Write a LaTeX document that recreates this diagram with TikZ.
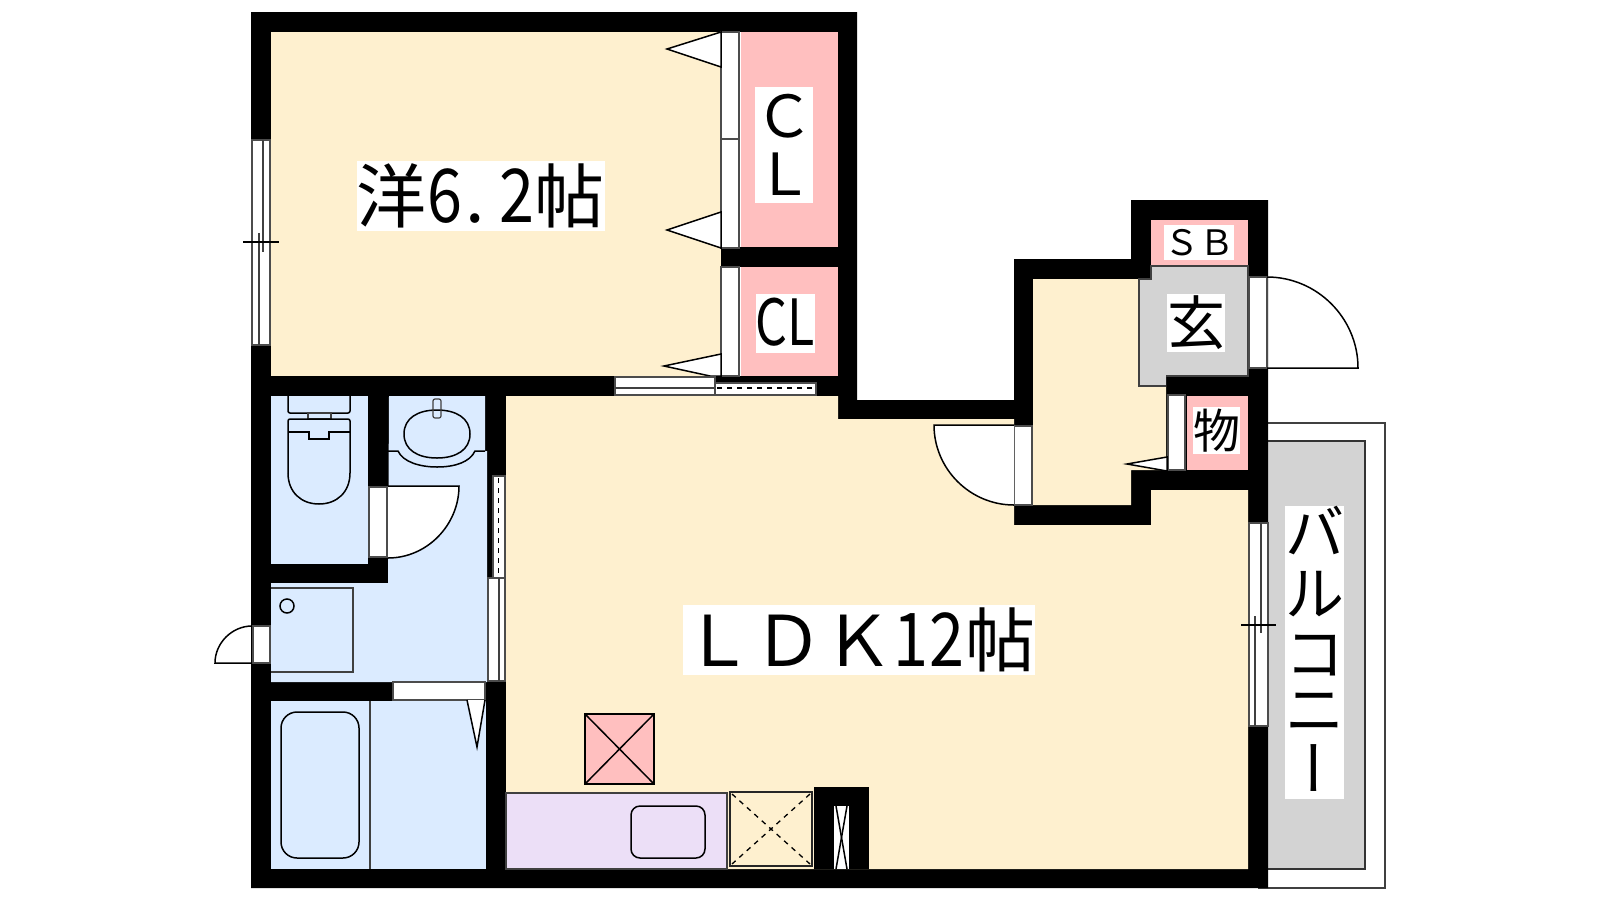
\documentclass[tikz,border=0pt]{standalone}
\usepackage{fontspec}
\setmainfont{Noto Sans CJK JP}
\usetikzlibrary{positioning}
\definecolor{roomcream}{HTML}{FEF0CF}
\definecolor{wetblue}{HTML}{DBEBFF}
\definecolor{closetpink}{HTML}{FFBFBF}
\definecolor{floorgray}{HTML}{D3D3D3}
\definecolor{counterlilac}{HTML}{ECDFF7}
\newcommand{\sz}[1]{\fontsize{#1pt}{#1pt}\selectfont}
\newcommand{\cstrut}{\rule[-.12em]{0pt}{1em}}
\newcommand{\dg}[1]{\makebox[36pt]{\scalebox{.9}[1.06]{#1}}}
\tikzset{
  roomlabel/.style={fill=white,inner sep=0pt,align=center,text=black},
  fixture/.style={draw=black,line width=1.5pt},
  frame/.style={draw=black!70,line width=1.1pt,fill=white},
  thinline/.style={draw=black!75,line width=1.2pt},
  dashline/.style={draw=black,line width=1.3pt,dash pattern=on 5pt off 5pt},
}
\begin{document}
\begin{tikzpicture}[x=1pt,y=-1pt]
\useasboundingbox (0,0) rectangle (1600,900);
% balcony
\draw[thinline] (1268,423) -- (1385,423) -- (1385,888) -- (1258,888);
\draw[draw=black!80,line width=1.3pt,fill=floorgray] (1268,441) -- (1365,441) -- (1365,869) -- (1268,869);
% walls
\fill[black] (251,12) -- (857,12) -- (857,400) -- (1014,400) -- (1014,259) -- (1131,259) -- (1131,200) -- (1268,200) -- (1268,888) -- (251,888) -- cycle;
% rooms
\fill[roomcream] (271,32) rectangle (721,376);
\fill[roomcream] (506,396) -- (838,396) -- (838,419) -- (1014,419) -- (1014,525) -- (1151,525) -- (1151,490) -- (1248,490) -- (1248,869) -- (506,869) -- cycle;
\fill[roomcream] (1033,279) -- (1139,279) -- (1139,386) -- (1166,386) -- (1166,470) -- (1131,470) -- (1131,505) -- (1033,505) -- cycle;
\fill[closetpink] (741,32) rectangle (838,247);
\fill[closetpink] (741,267) rectangle (838,376);
\fill[closetpink] (1151,220) rectangle (1248,265);
\fill[closetpink] (1187,396) rectangle (1248,470);
\draw[thinline,fill=floorgray] (1166,386) -- (1139,386) -- (1139,279) -- (1151,279) -- (1151,266) -- (1248,266) -- (1248,376) -- (1166,376);
\fill[wetblue] (271,396) rectangle (368,564);
\fill[wetblue] (389,396) -- (485,396) -- (485,451) -- (487,451) -- (487,682) -- (271,682) -- (271,583) -- (388,583) -- cycle;
\fill[wetblue] (271,701) rectangle (486,869);
% closet doors
\fill[white] (721,32) rectangle (741,247);
\fill[white] (721,267) rectangle (741,376);
\draw[frame] (721,32) rectangle (739,139);
\draw[frame] (721,139) rectangle (739,248);
\draw[frame] (721,267) rectangle (739,376);
\draw[fixture,fill=white] (721,32) -- (667,49) -- (721,67) -- cycle;
\draw[fixture,fill=white] (721,212) -- (667,230) -- (721,248) -- cycle;
\draw[fixture,fill=white] (721,354) -- (664,366) -- (710,376) -- (721,376) -- cycle;
\draw[frame] (1168,395) rectangle (1185,470);
\draw[fixture,fill=white] (1167,457) -- (1127,464) -- (1167,471) -- cycle;
% windows
\draw[frame] (252,140) rectangle (270,345);
\draw[thinline] (259,233) -- (259,345);
\draw[thinline] (263,140) -- (263,252);
\draw[fixture] (243,242) -- (279,242);
\draw[frame] (1249,523) rectangle (1268,726);
\draw[thinline] (1255,616) -- (1255,726);
\draw[thinline] (1261,523) -- (1261,633);
\draw[fixture] (1241,625) -- (1276,625);
\draw[frame] (615,377) rectangle (715,395);
\draw[thinline] (615,388) -- (715,388);
\draw[frame] (715,383) rectangle (816,395);
\draw[dashline] (717,388) -- (814,388);
\draw[frame] (493,476) rectangle (505,578);
\draw[dashline] (498.5,478) -- (498.5,576);
\draw[frame] (488,578) rectangle (505,681);
\draw[thinline] (499,578) -- (499,681);
% doors
\draw[frame] (1249,277) rectangle (1267,368);
\draw[fixture] (1267,277) .. controls (1317,277) and (1358,318) .. (1358,368) -- (1267,368);
\draw[frame] (1014,426) rectangle (1032,505);
\draw[fixture,fill=white] (1014,425) -- (934,425) .. controls (934,469) and (970,505) .. (1014,505);
\draw[frame] (369,487) rectangle (387,557);
\draw[fixture,fill=white] (388,486) -- (459,486) .. controls (459,525) and (427,558) .. (388,558);
\draw[frame] (253,626) rectangle (270,663);
\draw[fixture] (252,626) .. controls (232,626) and (215,643) .. (215,663) -- (252,663);
\draw[frame] (393,682) rectangle (485,700);
\draw[fixture,fill=white] (467,700) -- (477,747) -- (485,700);
% toilet
\draw[fixture,rounded corners=2pt] (288,396) -- (288,413) -- (350,413) -- (350,396);
\draw[thinline] (308,413) rectangle (331,419);
\draw[fixture,rounded corners=2pt] (288,473) -- (288,419) -- (350,419) -- (350,473);
\draw[fixture] (350,473) .. controls (350,492) and (337,504) .. (319,504) .. controls (301,504) and (288,492) .. (288,473);
\draw[fixture] (288,432) -- (309,432) -- (309,439) -- (329,439) -- (329,432) -- (350,432);
% wash basin
\draw[fixture] (388,451) -- (398,451) .. controls (403,462) and (420,467) .. (437,467) .. controls (455,467) and (470,462) .. (475,451) -- (485,451);
\draw[fixture] (437,410) .. controls (456,410) and (470,418) .. (470,434) .. controls (470,450) and (456,458) .. (437,458) .. controls (418,458) and (404,450) .. (404,434) .. controls (404,418) and (418,410) .. (437,410) -- cycle;
\draw[thinline,rounded corners=2pt] (433,399) -- (433,418) -- (441,418) -- (441,399) -- cycle;
% laundry pan and bath
\draw[thinline] (271,588) -- (353,588) -- (353,672) -- (271,672);
\draw[fixture] (287,606) circle (7pt);
\draw[thinline] (370,701) -- (370,869);
\draw[fixture,rounded corners=16pt] (281,712) rectangle (359,858);
% kitchen
\draw[fixture,fill=closetpink] (585,714) rectangle (654,784);
\draw[fixture] (585,714) -- (654,784);
\draw[fixture] (654,714) -- (585,784);
\draw[thinline,fill=counterlilac] (506,793) rectangle (727,869);
\draw[fixture,rounded corners=9pt] (631,806) rectangle (705,858);
\draw[draw=black!85,line width=1.7pt] (730,792) rectangle (812,866);
\draw[dashline] (732,794) -- (810,864);
\draw[dashline] (810,794) -- (732,864);
\fill[black] (814,787) rectangle (869,869);
\fill[white] (834,806) rectangle (849,869);
\draw[fixture] (836,806) -- (847,869);
\draw[fixture] (847,806) -- (836,869);
% labels
\node[roomlabel,font=\sz{70}] (bedroom) at (480.5,196) {\cstrut 洋\dg{6}\makebox[36pt][l]{\hspace{3pt}.}\dg{2}帖};
\node[roomlabel,font=\sz{70}] (living) at (859,640) {\cstrut ＬＤＫ\dg{1}\dg{2}帖};
\node[roomlabel,font=\sz{58}] (closetA) at (784,144.5) {\cstrut Ｃ\\\cstrut Ｌ};
\node[roomlabel,font=\sz{59}] (closetB) at (785.5,323) {\cstrut\makebox[59pt]{\scalebox{.85}[1.08]{CL}}};
\node[roomlabel,font=\sz{35}] (shoebox) at (1199,242.5) {\cstrut ＳＢ};
\node[roomlabel,font=\sz{58}] (entry) at (1196,322.5) {\cstrut 玄};
\node[roomlabel,font=\sz{47}] (storage) at (1216.5,430.5) {\cstrut 物};
\fill[white] (1285,506) rectangle (1344,799);
\foreach \ch/\ypos [count=\i] in {バ/532,ル/593,コ/653,ニ/709}
  \node[font=\sz{59},inner sep=0pt] (balcony\i) at (1314.5,\ypos) {\cstrut\ch};
\node[font=\sz{59},inner sep=0pt] (balcony5) at (1314.5,768) {\rotatebox[origin=c]{90}{\cstrut ー}};
\end{tikzpicture}
\end{document}
